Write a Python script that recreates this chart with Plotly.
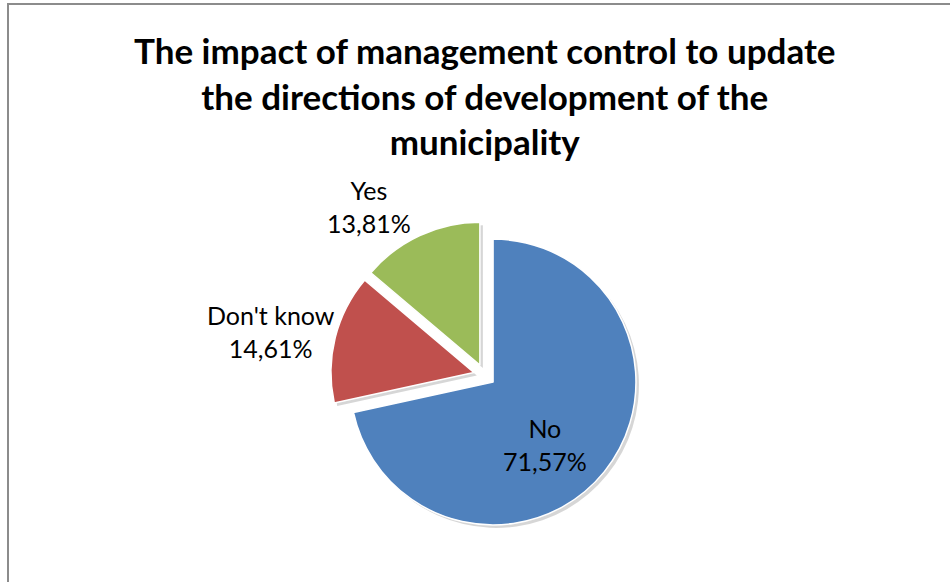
import plotly.graph_objects as go

# Survey answers and their shares (%)
categories = ["No", "Don't know", "Yes"]
shares = [71.57, 14.61, 13.81]
colors = ["#4F81BD", "#C0504D", "#9BBB59"]

title_lines = [
    "The impact of management control to update",
    "the directions of development of the",
    "municipality",
]

W, H = 950, 582
pull = 0.077
dom_x = [0.348, 0.672]
dom_y = [0.091, 0.620]


def fmt(v):
    return f"{v:.2f}".replace(".", ",") + "%"


fig = go.Figure()

# soft drop shadow under the slices
sx, sy = 3 / W, 3 / H
fig.add_trace(go.Pie(
    labels=categories, values=shares, sort=False, direction="clockwise",
    pull=[pull] * len(shares),
    marker=dict(colors=["rgba(0,0,0,0.16)"] * len(shares), line=dict(width=0)),
    textinfo="none", hoverinfo="skip", showlegend=False,
    domain=dict(x=[dom_x[0] + sx, dom_x[1] + sx], y=[dom_y[0] - sy, dom_y[1] - sy]),
))

fig.add_trace(go.Pie(
    labels=categories, values=shares, sort=False, direction="clockwise",
    pull=[pull] * len(shares),
    marker=dict(colors=colors, line=dict(color="white", width=1.5)),
    textinfo="none", showlegend=False,
    domain=dict(x=dom_x, y=dom_y),
))

# slice labels: category name and share
label_pos = {"No": (545, 445), "Don't know": (271, 331), "Yes": (369, 206)}
for cat, val in zip(categories, shares):
    px, py = label_pos[cat]
    fig.add_annotation(
        x=px / W, y=1 - py / H, xref="paper", yref="paper",
        text=f"{cat}<br>{fmt(val)}", showarrow=False,
        xanchor="center", yanchor="middle", align="center",
        font=dict(family="Lato", size=25, color="#000000"),
    )

# chart title
fig.add_annotation(
    x=484 / W, y=1 - 96 / H, xref="paper", yref="paper",
    text="<b>" + "<br>".join(title_lines) + "</b>", showarrow=False,
    xanchor="center", yanchor="middle", align="center",
    font=dict(family="Lato", size=35, color="#000000"),
)

# chart frame
fig.add_shape(
    type="rect", xref="paper", yref="paper",
    x0=8 / W, x1=1.02, y0=-0.02, y1=1 - 4 / H,
    line=dict(color="#8C8C8C", width=2), fillcolor="rgba(0,0,0,0)",
)

fig.update_layout(
    width=W, height=H,
    margin=dict(l=0, r=0, t=0, b=0),
    paper_bgcolor="white", plot_bgcolor="white",
    showlegend=False,
)

fig.write_html("out.html")
